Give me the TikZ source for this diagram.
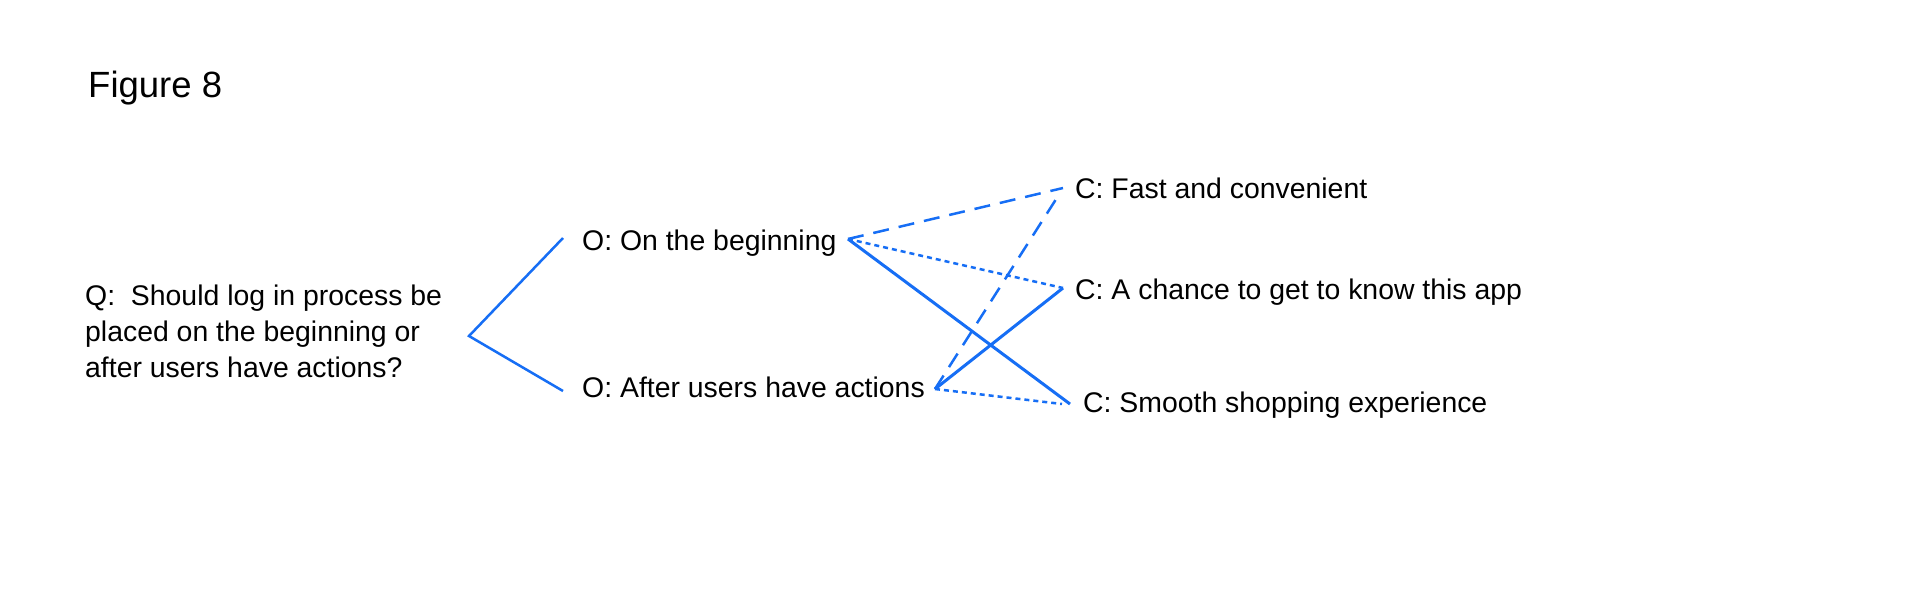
\documentclass[tikz,border=0pt]{standalone}
\usepackage{fontspec}
\setmainfont{Liberation Sans}
\definecolor{linkblue}{RGB}{22,110,245}
\begin{document}
\begin{tikzpicture}[x=1pt,y=-1pt,
  lbl/.style={inner sep=0pt,anchor=base west,font=\fontsize{28.4}{36}\selectfont},
  solidlink/.style={draw=linkblue,line width=3pt},
  thinlink/.style={draw=linkblue,line width=2.5pt},
  dashlink/.style={draw=linkblue,line width=2.5pt,dash pattern=on 16pt off 10pt},
  dotlink/.style={draw=linkblue,line width=2.5pt,dash pattern=on 5pt off 4pt}]
\useasboundingbox[fill=white] (0,0) rectangle (1920,611);
\node[inner sep=0pt,anchor=base west,font=\fontsize{36.5}{40}\selectfont] (fig) at (88,97) {Figure 8};
\node[lbl,align=left] (q) at (85,377) {Q:\ \ Should log in process be\\placed on the beginning or\\after users have actions?};
\node[lbl] (o1) at (582,250) {O: On the beginning};
\node[lbl] (o2) at (582,397) {O: After users have actions};
\node[lbl] (c1) at (1075,198) {C: Fast and convenient};
\node[lbl] (c2) at (1075,299) {C: A chance to get to know this app};
\node[lbl] (c3) at (1083,412) {C: Smooth shopping experience};
\coordinate (qv) at (469,336);
\coordinate (o1in) at (563,238);
\coordinate (o2in) at (563,391);
\coordinate (a1) at (848,239);
\coordinate (a2) at (935,389);
\coordinate (c1a) at (1063,188);
\coordinate (c1b) at (1060,193);
\coordinate (c2a) at (1063,288);
\coordinate (c3a) at (1070,404);
\coordinate (c3b) at (1062,404);
\draw[thinlink] (o1in) -- (qv) -- (o2in);
\draw[dashlink] (a1) -- (c1a);
\draw[dotlink] (a1) -- (c2a);
\draw[solidlink] (a1) -- (c3a);
\draw[dashlink] (a2) -- (c1b);
\draw[solidlink] (a2) -- (c2a);
\draw[dotlink] (a2) -- (c3b);
\end{tikzpicture}
\end{document}
